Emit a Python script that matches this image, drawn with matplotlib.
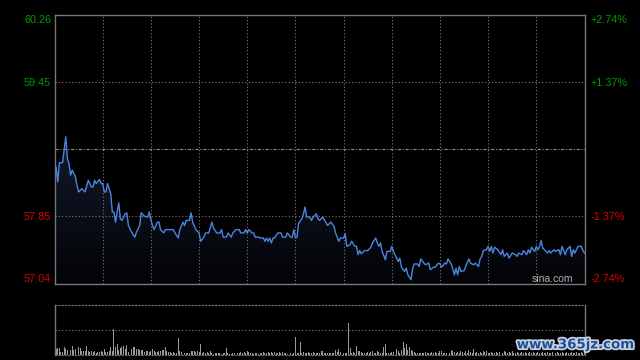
import numpy as np
import matplotlib.pyplot as plt
import matplotlib.patheffects as pe
from matplotlib.colors import LinearSegmentedColormap

plt.rcParams['font.family'] = ['Liberation Sans', 'DejaVu Sans']

# intraday data (HK session, minutes from open, 330 minutes)
prev_close = 58.65
y_ticks = [60.26, 59.45, 57.85, 57.04]
y_labels = ['60.26', '59.45', '57.85', '57.04']
pct_labels = ['+2.74%', '+1.37%', '-1.37%', '-2.74%']

minutes = [0, 1, 2, 3, 5, 7, 8, 9, 10, 11,
           13, 14, 15, 17, 19, 21, 23, 24, 25, 26,
           28, 29, 30, 31, 32, 33, 35, 36, 37, 38,
           39, 40, 41, 42, 44, 45, 46, 48, 50, 51,
           53, 54, 56, 58, 59, 60, 61, 62, 64, 65,
           66, 68, 69, 71, 74, 75, 77, 78, 80, 81,
           82, 84, 85, 86, 88, 90, 91, 93, 94, 96,
           98, 99, 101, 103, 104, 105, 107, 108, 110, 111,
           113, 115, 116, 118, 119, 120, 121, 123, 124, 125,
           127, 128, 130, 131, 132, 133, 134, 135, 136, 137,
           139, 141, 142, 144, 145, 147, 148, 149, 150, 151,
           152, 154, 155, 156, 157, 159, 160, 161, 163, 164,
           165, 167, 170, 172, 174, 175, 177, 178, 180, 181,
           182, 184, 185, 187, 188, 189, 190, 191, 193, 195,
           197, 198, 200, 201, 202, 203, 204, 206, 207, 209,
           210, 211, 213, 214, 215, 216, 218, 219, 220, 222,
           223, 224, 226, 227, 228, 230, 231, 233, 234, 236,
           237, 239, 240, 241, 243, 244, 245, 247, 248, 249,
           250, 251, 252, 253, 255, 256, 258, 259, 261, 262,
           264, 265, 266, 267, 269, 270, 271, 272, 273, 274,
           276, 278, 279, 280, 282, 283, 285, 287, 288, 289,
           291, 292, 294, 295, 296, 297, 299, 300, 301, 302,
           303, 304, 305, 307, 308, 309, 311, 312, 314, 315,
           316, 318, 319, 321, 322, 323, 324, 326, 328, 329,
           330]

prices = [58.49, 58.43, 58.26, 58.49, 58.49, 58.80, 58.54, 58.48, 58.34, 58.40,
          58.32, 58.22, 58.14, 58.18, 58.14, 58.28, 58.20, 58.20, 58.28, 58.24,
          58.29, 58.24, 58.24, 58.14, 58.14, 58.24, 58.12, 57.90, 57.90, 57.78,
          57.90, 58.01, 57.82, 57.80, 57.88, 57.89, 57.74, 57.66, 57.60, 57.66,
          57.74, 57.89, 57.85, 57.84, 57.90, 57.81, 57.74, 57.69, 57.78, 57.78,
          57.69, 57.65, 57.69, 57.69, 57.69, 57.65, 57.59, 57.69, 57.78, 57.74,
          57.80, 57.80, 57.89, 57.78, 57.69, 57.65, 57.55, 57.60, 57.65, 57.65,
          57.78, 57.71, 57.65, 57.65, 57.69, 57.60, 57.60, 57.65, 57.60, 57.65,
          57.69, 57.69, 57.65, 57.65, 57.69, 57.65, 57.69, 57.65, 57.65, 57.60,
          57.60, 57.59, 57.59, 57.55, 57.59, 57.55, 57.59, 57.53, 57.59, 57.59,
          57.65, 57.65, 57.60, 57.60, 57.65, 57.60, 57.60, 57.69, 57.59, 57.60,
          57.77, 57.82, 57.88, 57.96, 57.84, 57.84, 57.80, 57.84, 57.88, 57.82,
          57.80, 57.84, 57.74, 57.78, 57.73, 57.65, 57.55, 57.59, 57.59, 57.64,
          57.49, 57.51, 57.55, 57.49, 57.49, 57.39, 57.44, 57.40, 57.44, 57.44,
          57.48, 57.53, 57.59, 57.53, 57.49, 57.53, 57.43, 57.33, 57.43, 57.43,
          57.49, 57.43, 57.35, 57.31, 57.35, 57.24, 57.19, 57.23, 57.15, 57.09,
          57.23, 57.28, 57.28, 57.25, 57.34, 57.29, 57.27, 57.29, 57.21, 57.24,
          57.24, 57.29, 57.28, 57.24, 57.29, 57.28, 57.34, 57.28, 57.22, 57.15,
          57.23, 57.15, 57.25, 57.19, 57.20, 57.25, 57.34, 57.29, 57.27, 57.29,
          57.25, 57.34, 57.37, 57.44, 57.45, 57.49, 57.43, 57.49, 57.41, 57.48,
          57.45, 57.39, 57.45, 57.37, 57.41, 57.35, 57.41, 57.39, 57.37, 57.41,
          57.39, 57.44, 57.39, 57.45, 57.41, 57.48, 57.43, 57.49, 57.45, 57.49,
          57.56, 57.47, 57.45, 57.41, 57.44, 57.41, 57.45, 57.43, 57.45, 57.39,
          57.49, 57.39, 57.45, 57.49, 57.37, 57.45, 57.41, 57.49, 57.49, 57.44,
          57.41]

# volume per minute (arbitrary units)
volume = [18, 12, 14, 14, 6, 6, 16, 12, 10, 10,
          10, 18, 9, 11, 13, 16, 13, 8, 7, 8,
          18, 7, 6, 7, 5, 7, 4, 6, 5, 7,
          6, 11, 5, 6, 8, 15, 8, 51, 15, 22,
          10, 13, 15, 18, 11, 20, 6, 40, 11, 15,
          15, 11, 11, 10, 10, 9, 5, 7, 8, 6,
          7, 11, 8, 5, 6, 8, 8, 10, 10, 15,
          8, 5, 6, 3, 5, 3, 4, 33, 7, 5,
          7, 3, 3, 4, 3, 7, 7, 8, 5, 8,
          5, 22, 3, 5, 3, 5, 3, 8, 3, 2,
          3, 4, 3, 3, 2, 3, 4, 14, 3, 2,
          2, 3, 3, 6, 3, 3, 5, 3, 6, 3,
          7, 5, 3, 3, 2, 3, 3, 2, 3, 3,
          5, 3, 3, 5, 3, 5, 3, 5, 3, 3,
          5, 3, 6, 3, 3, 2, 3, 3, 2, 3,
          36, 3, 3, 26, 3, 5, 3, 4, 6, 3,
          3, 5, 3, 3, 4, 3, 8, 7, 3, 3,
          3, 3, 3, 3, 3, 10, 5, 11, 6, 3,
          3, 3, 3, 64, 13, 4, 6, 3, 17, 8,
          8, 5, 3, 3, 3, 6, 3, 6, 8, 3,
          3, 8, 6, 3, 3, 15, 22, 3, 3, 3,
          5, 6, 3, 11, 8, 3, 10, 25, 13, 22,
          10, 15, 10, 8, 6, 3, 3, 3, 3, 3,
          3, 6, 3, 3, 3, 5, 3, 6, 3, 3,
          8, 8, 3, 3, 3, 18, 3, 10, 8, 6,
          3, 6, 3, 8, 6, 3, 8, 3, 10, 6,
          3, 11, 3, 5, 3, 6, 3, 8, 6, 8,
          3, 3, 6, 3, 3, 6, 3, 6, 3, 3,
          8, 5, 3, 6, 3, 8, 3, 3, 5, 3,
          3, 5, 3, 6, 3, 3, 5, 3, 6, 3,
          3, 5, 3, 3, 6, 3, 3, 5, 3, 3,
          6, 3, 3, 5, 3, 3, 6, 3, 3, 5,
          3, 3, 6, 3, 3, 5, 3, 3, 6, 3, 8]

grid_c = '#7a7a7a'
up_c = '#009a00'
down_c = '#dd0000'

fig = plt.figure(figsize=(6.4, 3.6), dpi=100, facecolor='black')

# price panel
ax = fig.add_axes([0.0852, 0.2111, 0.8281, 0.7486])
ax.set_facecolor('black')

cmap = LinearSegmentedColormap.from_list('fade', ['#020306', '#131a2b'])
grad = np.linspace(0, 1, 256).reshape(-1, 1)
im = ax.imshow(grad, cmap=cmap, aspect='auto', origin='lower',
               extent=[0, 330, y_ticks[-1], max(prices)], zorder=1)
fill = ax.fill_between(minutes, prices, y_ticks[-1], facecolor='none', edgecolor='none')
im.set_clip_path(fill.get_paths()[0], transform=ax.transData)

ax.plot(minutes, prices, color='#4a86e0', lw=1.0, zorder=3)

for v in range(30, 330, 30):
    ax.axvline(v, color=grid_c, lw=0.8, ls=(0, (1, 2)), zorder=2)
for p in [y_ticks[1], y_ticks[2]]:
    ax.axhline(p, color=grid_c, lw=0.8, ls=(0, (1, 2)), zorder=2)
ax.axhline(prev_close, color='#8a8a8a', lw=0.8, ls=(0, (3, 1.5, 1, 1.5)), zorder=2)

ax.set_xlim(0, 330)
ax.set_ylim(y_ticks[-1], y_ticks[0])
ax.set_xticks([])
for s in ax.spines.values():
    s.set_color('#777777')
    s.set_linewidth(1)

ax.set_yticks(y_ticks)
ax.set_yticklabels(y_labels)
ax.tick_params(axis='y', length=0, pad=2.5, labelsize=7.8)
for lab in ax.get_yticklabels():
    v = float(lab.get_text())
    lab.set_color(up_c if v > prev_close else down_c)
    if lab.get_text() == y_labels[0]:
        lab.set_va('top')
    elif lab.get_text() == y_labels[-1]:
        lab.set_va('bottom')

ax2 = ax.twinx()
ax2.set_ylim(y_ticks[-1], y_ticks[0])
ax2.set_yticks(y_ticks)
ax2.set_yticklabels(pct_labels)
ax2.tick_params(axis='y', length=0, pad=4, labelsize=7.8)
for s in ax2.spines.values():
    s.set_visible(False)
for lab in ax2.get_yticklabels():
    t = lab.get_text()
    lab.set_color(up_c if t.startswith('+') else down_c)
    if t == pct_labels[0]:
        lab.set_va('top')
    elif t == pct_labels[-1]:
        lab.set_va('bottom')

ax.text(0.979, 0.018, 'sina.com', transform=ax.transAxes, ha='right', va='center',
        color='#b0b0b0', fontsize=7.5, zorder=4)

# volume panel
axv = fig.add_axes([0.0852, 0.0139, 0.8281, 0.1397])
axv.set_facecolor('black')
axv.bar(np.arange(len(volume)), volume, width=0.6, color='#9a9a9a', zorder=2)
axv.axhline(50, color=grid_c, lw=0.8, ls=(0, (1, 2)), zorder=1)
axv.set_xlim(0, 330)
axv.set_ylim(0, 100)
axv.set_xticks([])
axv.set_yticks([])
for k, s in axv.spines.items():
    s.set_color('#777777')
    s.set_linewidth(1)
    if k in ('top', 'bottom'):
        s.set_linestyle((0, (1, 2)))
        s.set_linewidth(0.8)

fig.text(0.992, 0.042, 'www.365jz.com', ha='right', va='center', fontsize=9.6,
         fontweight='bold', family='DejaVu Sans', color='#1d4f9a',
         path_effects=[pe.withStroke(linewidth=2.5, foreground='#c9d2de')])

fig.savefig('out.png', dpi=100, facecolor='black')
